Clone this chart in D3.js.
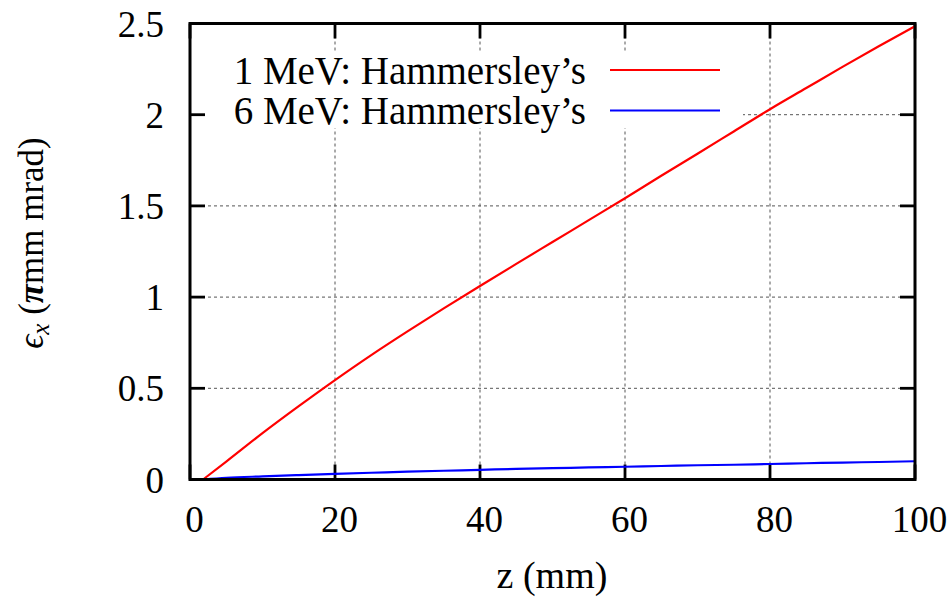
<!DOCTYPE html>
<html>
<head>
<meta charset="utf-8">
<script src="https://cdn.jsdelivr.net/npm/d3@7"></script>
<style>
  html, body { margin: 0; padding: 0; background: #fff; }
  svg { display: block; }
  text { font-family: "Liberation Serif", "Times New Roman", serif; fill: #000; }
</style>
</head>
<body>
<svg id="chart" width="952" height="597"></svg>
<script>
// Longitudinal position z (mm)
const zPositions = [1.8, 5, 10, 15, 20, 25, 30, 35, 40, 45, 50, 55, 60, 65, 70, 75, 80, 85, 90, 95, 100];
// Emittance growth, 1 MeV beam (pi mm mrad)
const emit1MeV = [0, 0.098, 0.254, 0.402, 0.545, 0.682, 0.812, 0.938, 1.061, 1.182, 1.302, 1.422, 1.542, 1.665, 1.786, 1.908, 2.03, 2.146, 2.262, 2.375, 2.485];
// Emittance growth, 6 MeV beam (pi mm mrad)
const emit6MeV = [0, 0.009, 0.017, 0.024, 0.031, 0.037, 0.043, 0.048, 0.053, 0.058, 0.062, 0.066, 0.070, 0.074, 0.078, 0.081, 0.085, 0.089, 0.093, 0.096, 0.100];

const seriesNames = ["1 MeV: Hammersley\u2019s", "6 MeV: Hammersley\u2019s"];
const seriesColors = ["#ff0000", "#0000ff"];

const xTicks = [0, 20, 40, 60, 80, 100];
const yTicks = [0, 0.5, 1, 1.5, 2, 2.5];

const width = 952, height = 597;
const margin = { left: 190, right: 37, top: 23.5, bottom: 117.5 };
const plotW = width - margin.left - margin.right;
const plotH = height - margin.top - margin.bottom;

const svg = d3.select("#chart");
const g = svg.append("g").attr("transform", `translate(${margin.left},${margin.top})`);

const x = d3.scaleLinear().domain([0, 100]).range([0, plotW]);
const y = d3.scaleLinear().domain([0, 2.5]).range([plotH, 0]);

const tickLen = 15;
const fontSize = 37;

// dashed grid
const grid = g.append("g").attr("stroke", "#555").attr("stroke-width", 1).attr("stroke-dasharray", "3,3");
grid.selectAll("line.vx").data(xTicks.slice(1, -1)).join("line")
  .attr("x1", d => x(d)).attr("x2", d => x(d)).attr("y1", 0).attr("y2", plotH);
grid.selectAll("line.hy").data(yTicks.slice(1, -1)).join("line")
  .attr("x1", 0).attr("x2", plotW).attr("y1", d => y(d)).attr("y2", d => y(d));

// opaque key box
g.append("rect").attr("x", 8).attr("y", 28.5).attr("width", 545).attr("height", 76).attr("fill", "#fff");

// inward ticks on all four sides
const ticks = g.append("g").attr("stroke", "#000").attr("stroke-width", 2.8);
xTicks.forEach(t => {
  ticks.append("line").attr("x1", x(t)).attr("x2", x(t)).attr("y1", plotH).attr("y2", plotH - tickLen);
  ticks.append("line").attr("x1", x(t)).attr("x2", x(t)).attr("y1", 0).attr("y2", tickLen);
});
yTicks.forEach(t => {
  ticks.append("line").attr("x1", 0).attr("x2", tickLen).attr("y1", y(t)).attr("y2", y(t));
  ticks.append("line").attr("x1", plotW).attr("x2", plotW - tickLen).attr("y1", y(t)).attr("y2", y(t));
});

// tick labels via d3 axes (lines hidden; ticks drawn above)
const xAxis = g.append("g").attr("transform", `translate(0,${plotH})`)
  .call(d3.axisBottom(x).tickValues(xTicks).tickSize(0).tickPadding(0).tickFormat(d3.format("d")));
xAxis.select(".domain").remove();
xAxis.selectAll("text").attr("font-size", fontSize).attr("font-family", null)
  .attr("dy", null).attr("y", 52.5).attr("dx", 4).attr("fill", "#000");

const yAxis = g.append("g")
  .call(d3.axisLeft(y).tickValues(yTicks).tickSize(0).tickPadding(0).tickFormat(d => String(d)));
yAxis.select(".domain").remove();
yAxis.selectAll("text").attr("font-size", fontSize).attr("font-family", null)
  .attr("x", -26).attr("dy", "0.34em").attr("fill", "#000");

// curves
const seriesData = [emit1MeV, emit6MeV];
const line = d3.line().x(d => x(d[0])).y(d => y(d[1])).curve(d3.curveMonotoneX);
seriesData.forEach((vals, i) => {
  g.append("path")
    .datum(zPositions.map((z, k) => [z, vals[k]]))
    .attr("fill", "none").attr("stroke", seriesColors[i]).attr("stroke-width", 2.2)
    .attr("d", line);
});

// key
const keyRowY = [70, 110.5];
seriesNames.forEach((name, i) => {
  svg.append("text").attr("x", 586).attr("y", keyRowY[i]).attr("dy", "0.35em")
    .attr("text-anchor", "end").attr("font-size", 39).text(name);
  svg.append("line").attr("x1", 610).attr("x2", 720).attr("y1", keyRowY[i]).attr("y2", keyRowY[i])
    .attr("stroke", seriesColors[i]).attr("stroke-width", 2.2);
});

// frame
g.append("rect").attr("x", 0).attr("y", 0).attr("width", plotW).attr("height", plotH)
  .attr("fill", "none").attr("stroke", "#000").attr("stroke-width", 3);

// axis titles
svg.append("text").attr("x", 552).attr("y", 588).attr("text-anchor", "middle")
  .attr("font-size", 38).text("z (mm)");

const yTitle = svg.append("text")
  .attr("transform", "translate(43,243) rotate(-90)")
  .attr("text-anchor", "middle").attr("font-size", 35);
yTitle.append("tspan").attr("font-style", "italic").text("\u03f5");
yTitle.append("tspan").attr("font-style", "italic").attr("font-size", 25).attr("dy", 6).text("x");
yTitle.append("tspan").attr("dy", -6).text(" (");
yTitle.append("tspan").attr("font-style", "italic").attr("font-weight", "bold").text("\u03c0");
yTitle.append("tspan").text("mm mrad)");
</script>
</body>
</html>
